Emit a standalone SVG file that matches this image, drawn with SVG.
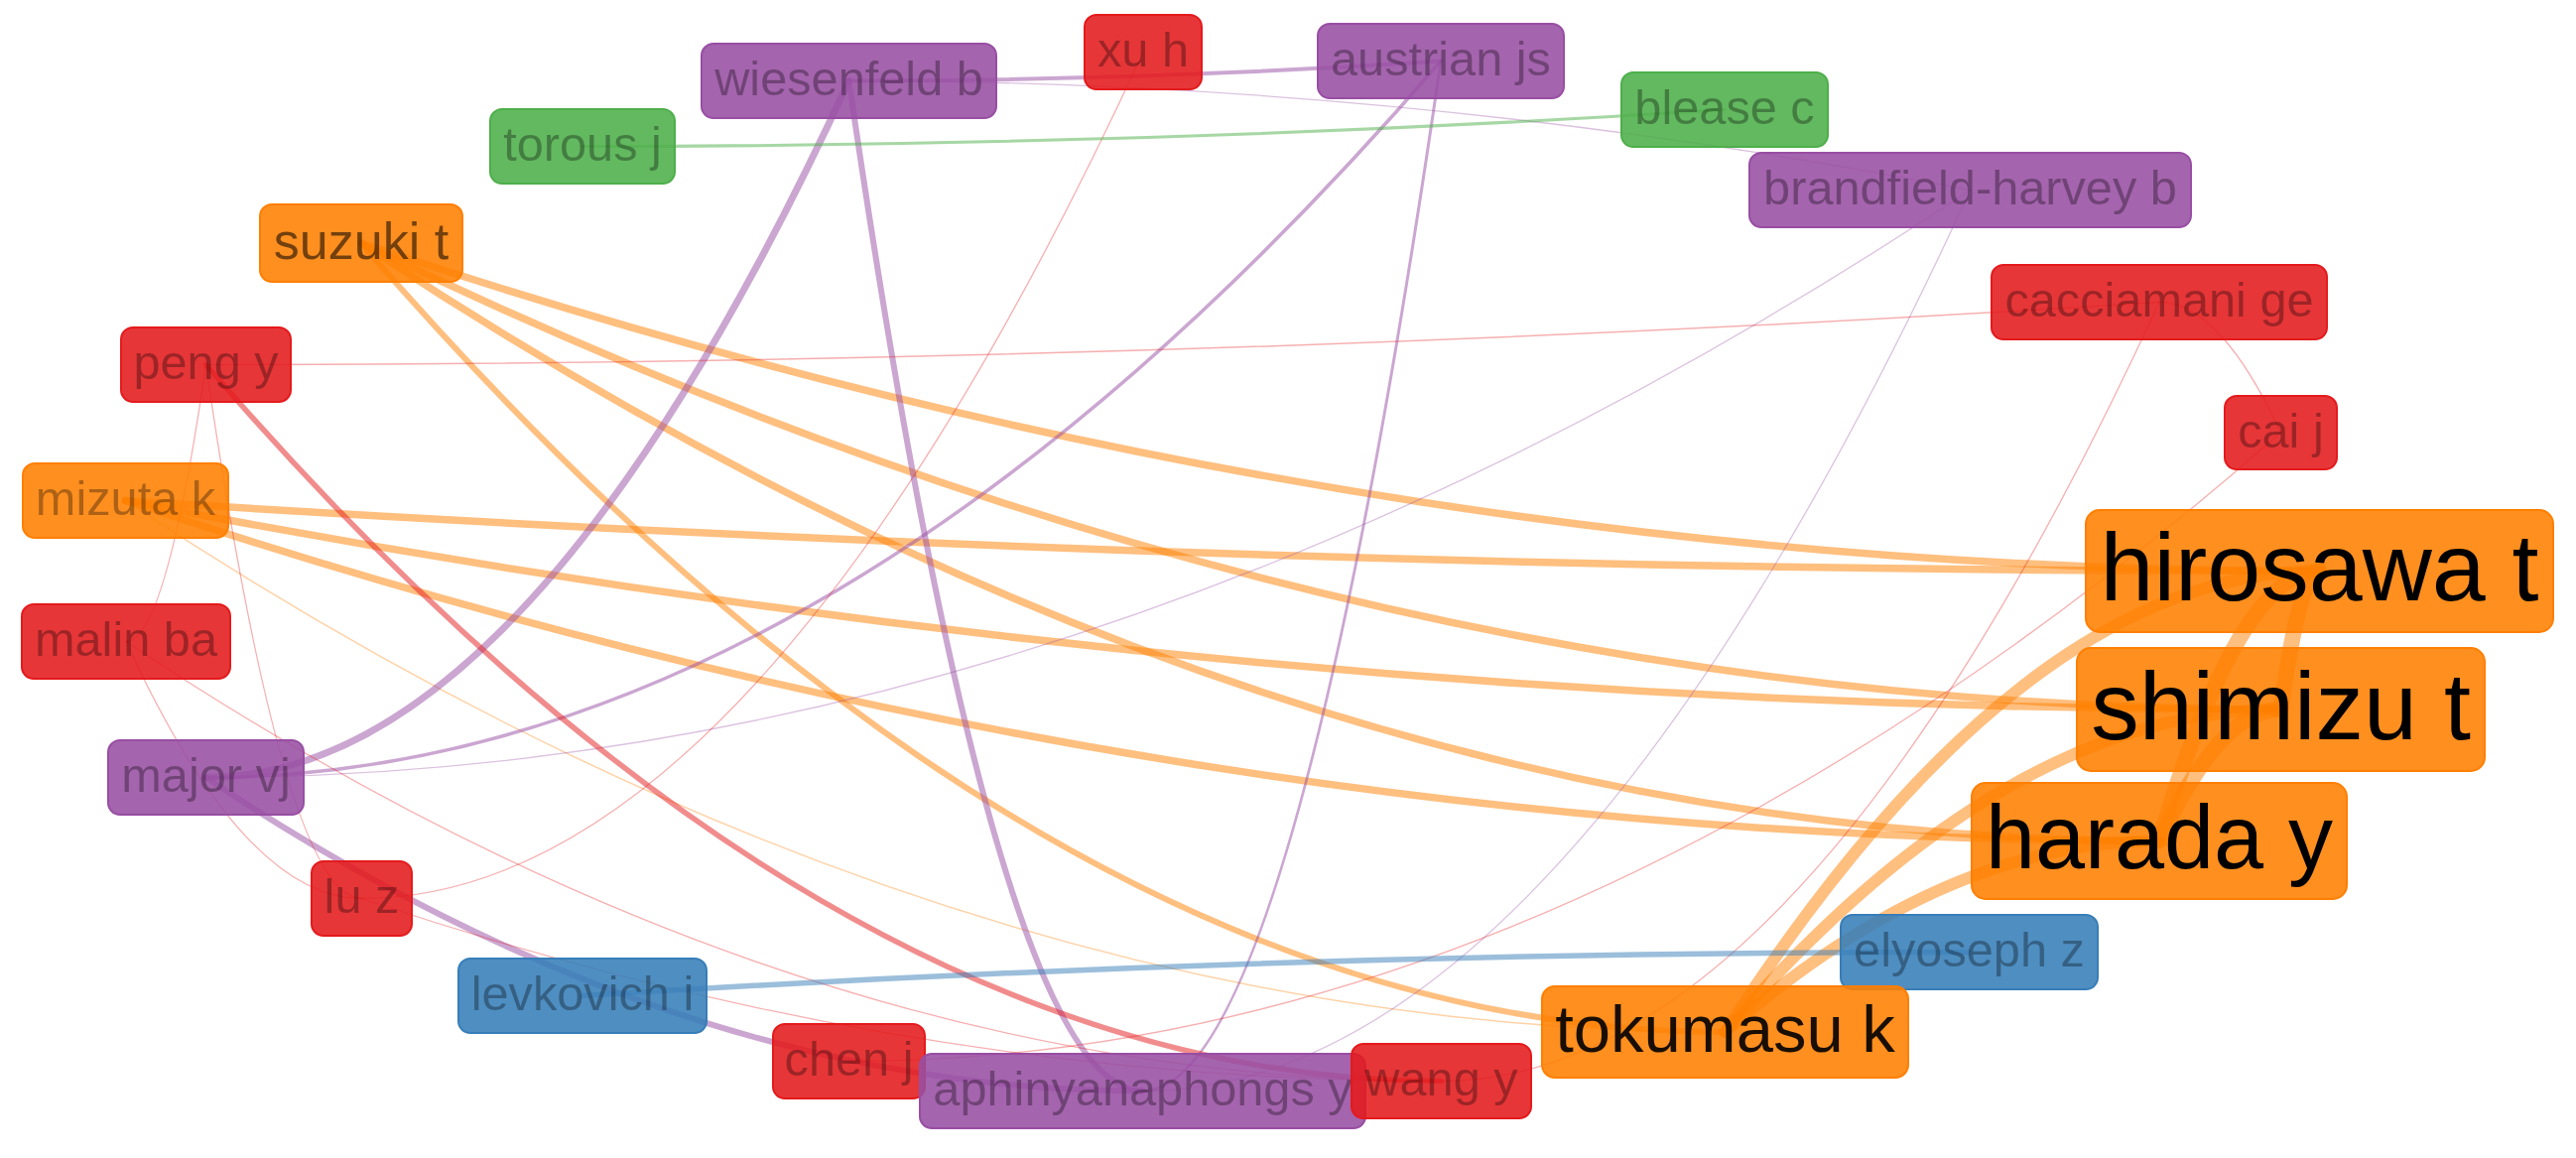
<svg xmlns="http://www.w3.org/2000/svg" width="2596" height="1167" viewBox="0 0 2596 1167">
<style>
.bg{fill:#ffffff}
.e path{fill:none;stroke-linecap:round}
.o{stroke:#ff7f00;stroke-opacity:.5}
.p{stroke:#984ea3;stroke-opacity:.5}
.r{stroke:#e41a1c;stroke-opacity:.5}
.b{stroke:#377eb8;stroke-opacity:.5}
.g{stroke:#4daf4a;stroke-opacity:.5}
.thin{stroke-opacity:.35}
.node rect{stroke-width:2;fill-opacity:.88}
.cr rect{fill:#e41a1c;stroke:#e41a1c}
.cp rect{fill:#984ea3;stroke:#984ea3}
.co rect{fill:#ff7f00;stroke:#ff7f00}
.cb rect{fill:#377eb8;stroke:#377eb8}
.cg rect{fill:#4daf4a;stroke:#4daf4a}
.node text{font-family:"Liberation Sans",Arial,sans-serif;text-anchor:middle;fill:#000;font-size:48.7px;fill-opacity:.32}
</style>
<rect class="bg" x="0" y="0" width="2596" height="1167"/>
<g id="connectors" class="e">
<path class="o" stroke-width="7.5" d="M2337.5,575.5 Q1350.75,575.5 364,245"/>
<path class="o" stroke-width="7.5" d="M2298.5,715 Q1331.25,715 364,245"/>
<path class="o" stroke-width="7.5" d="M2176,847.5 Q1270,847.5 364,245"/>
<path class="o" stroke-width="6" d="M1738.5,1040 Q1051.25,1040 364,245"/>
<path class="o" stroke-width="7.5" d="M2337.5,575.5 Q1232,575.5 126.5,504.5"/>
<path class="o" stroke-width="7.5" d="M2298.5,715 Q1212.5,715 126.5,504.5"/>
<path class="o" stroke-width="7.5" d="M2176,847.5 Q1151.25,847.5 126.5,504.5"/>
<path class="o thin" stroke-width="1.5" d="M1738.5,1040 Q932.5,1040 126.5,504.5"/>
<path class="o" stroke-width="12" d="M2337.5,575.5 Q2038,575.5 1738.5,1040"/>
<path class="o" stroke-width="12" d="M2298.5,715 Q2018.5,715 1738.5,1040"/>
<path class="o" stroke-width="12" d="M2176,847.5 Q1957.25,847.5 1738.5,1040"/>
<path class="o" stroke-width="16" d="M2337.5,575.5 Q2318,575.5 2298.5,715"/>
<path class="o" stroke-width="16" d="M2337.5,575.5 Q2256.75,575.5 2176,847.5"/>
<path class="o" stroke-width="16" d="M2298.5,715 Q2237.25,715 2176,847.5"/>
<path class="p" stroke-width="4" d="M855.5,81.5 Q1153.75,81.5 1452,61.5"/>
<path class="p" stroke-width="7" d="M207.5,783.5 Q531.5,783.5 855.5,81.5"/>
<path class="p" stroke-width="6" d="M1151.5,1099.5 Q1003.5,1099.5 855.5,81.5"/>
<path class="p thin" stroke-width="1.3" d="M855.5,81.5 Q1420.5,81.5 1985.5,191.5"/>
<path class="p" stroke-width="3.5" d="M207.5,783.5 Q829.75,783.5 1452,61.5"/>
<path class="p" stroke-width="3" d="M1151.5,1099.5 Q1301.75,1099.5 1452,61.5"/>
<path class="p thin" stroke-width="1.3" d="M207.5,783.5 Q1096.5,783.5 1985.5,191.5"/>
<path class="p thin" stroke-width="1.3" d="M1151.5,1099.5 Q1568.5,1099.5 1985.5,191.5"/>
<path class="p" stroke-width="6" d="M1151.5,1099.5 Q679.5,1099.5 207.5,783.5"/>
<path class="r thin" stroke-width="1.5" d="M207.5,367.5 Q1191.75,367.5 2176,304.5"/>
<path class="r" stroke-width="5.5" d="M1452.5,1089.5 Q830,1089.5 207.5,367.5"/>
<path class="r thin" stroke-width="1.3" d="M2176,304.5 Q2237.25,304.5 2298.5,436"/>
<path class="r thin" stroke-width="1.3" d="M1452.5,1089.5 Q1814.25,1089.5 2176,304.5"/>
<path class="r thin" stroke-width="1.3" d="M855.5,1069.5 Q1577,1069.5 2298.5,436"/>
<path class="r thin" stroke-width="1.3" d="M364.5,905.5 Q758.25,905.5 1152,52.5"/>
<path class="r thin" stroke-width="1.3" d="M127,646.5 Q167.25,646.5 207.5,367.5"/>
<path class="r thin" stroke-width="1.3" d="M364.5,905.5 Q245.75,905.5 127,646.5"/>
<path class="r thin" stroke-width="1.3" d="M364.5,905.5 Q286,905.5 207.5,367.5"/>
<path class="r thin" stroke-width="1.3" d="M1452.5,1089.5 Q789.75,1089.5 127,646.5"/>
<path class="r thin" stroke-width="1.3" d="M1452.5,1089.5 Q908.5,1089.5 364.5,905.5"/>
<path class="b" stroke-width="5.5" d="M1984.5,959.5 Q1285.75,959.5 587,1003.5"/>
<path class="g" stroke-width="3" d="M587,147.5 Q1162.5,147.5 1738,110.5"/>
</g>
<g id="n-xu-h" class="node cr"><rect x="1093" y="15" width="118" height="75" rx="12"/><text x="1152" y="67.3">xu h</text></g>
<g id="n-austrian-js" class="node cp"><rect x="1328" y="24" width="248" height="75" rx="12"/><text x="1452" y="76.3">austrian js</text></g>
<g id="n-wiesenfeld-b" class="node cp"><rect x="707" y="44" width="297" height="75" rx="12"/><text x="855.5" y="96.3">wiesenfeld b</text></g>
<g id="n-torous-j" class="node cg"><rect x="494" y="110" width="186" height="75" rx="12"/><text x="587" y="162.3">torous j</text></g>
<g id="n-blease-c" class="node cg"><rect x="1634" y="73" width="208" height="75" rx="12"/><text x="1738" y="125.3">blease c</text></g>
<g id="n-brandfield-harvey-b" class="node cp"><rect x="1763" y="154" width="445" height="75" rx="12"/><text x="1985.5" y="206.3">brandfield-harvey b</text></g>
<g id="n-suzuki-t" class="node co"><rect x="262" y="206" width="204" height="78" rx="12"/><text x="364" y="261" style="font-size:52px;fill-opacity:.55">suzuki t</text></g>
<g id="n-cacciamani-ge" class="node cr"><rect x="2007" y="267" width="338" height="75" rx="12"/><text x="2176" y="319.3">cacciamani ge</text></g>
<g id="n-peng-y" class="node cr"><rect x="122" y="330" width="171" height="75" rx="12"/><text x="207.5" y="382.3">peng y</text></g>
<g id="n-cai-j" class="node cr"><rect x="2242" y="399" width="113" height="74" rx="12"/><text x="2298.5" y="450.8">cai j</text></g>
<g id="n-mizuta-k" class="node co"><rect x="23" y="467" width="207" height="75" rx="12"/><text x="126.5" y="519.3">mizuta k</text></g>
<g id="n-malin-ba" class="node cr"><rect x="22" y="609" width="210" height="75" rx="12"/><text x="127" y="661.3">malin ba</text></g>
<g id="n-major-vj" class="node cp"><rect x="109" y="746" width="197" height="75" rx="12"/><text x="207.5" y="798.3">major vj</text></g>
<g id="n-lu-z" class="node cr"><rect x="314" y="868" width="101" height="75" rx="12"/><text x="364.5" y="920.3">lu z</text></g>
<g id="n-levkovich-i" class="node cb"><rect x="462" y="966" width="250" height="75" rx="12"/><text x="587" y="1018.3">levkovich i</text></g>
<g id="n-elyoseph-z" class="node cb"><rect x="1855" y="922" width="259" height="75" rx="12"/><text x="1984.5" y="974.3">elyoseph z</text></g>
<g id="n-chen-j" class="node cr"><rect x="779" y="1032" width="153" height="75" rx="12"/><text x="855.5" y="1084.3">chen j</text></g>
<g id="n-aphinyanaphongs-y" class="node cp"><rect x="927" y="1062" width="449" height="75" rx="12"/><text x="1151.5" y="1114.3">aphinyanaphongs y</text></g>
<g id="n-wang-y" class="node cr"><rect x="1362" y="1052" width="181" height="75" rx="12"/><text x="1452.5" y="1104.3">wang y</text></g>
<g id="n-tokumasu-k" class="node co"><rect x="1554" y="994" width="369" height="92" rx="13"/><text x="1738.5" y="1060.4" style="font-size:67px;fill-opacity:.9">tokumasu k</text></g>
<g id="n-hirosawa-t" class="node co"><rect x="2102" y="514" width="471" height="123" rx="14"/><text x="2337.5" y="605.1" style="font-size:97px;fill-opacity:1">hirosawa t</text></g>
<g id="n-shimizu-t" class="node co"><rect x="2093" y="653" width="411" height="124" rx="14"/><text x="2298.5" y="744.6" style="font-size:97px;fill-opacity:1">shimizu t</text></g>
<g id="n-harada-y" class="node co"><rect x="1987" y="789" width="378" height="117" rx="14"/><text x="2176" y="875" style="font-size:90px;fill-opacity:1">harada y</text></g>
</svg>
